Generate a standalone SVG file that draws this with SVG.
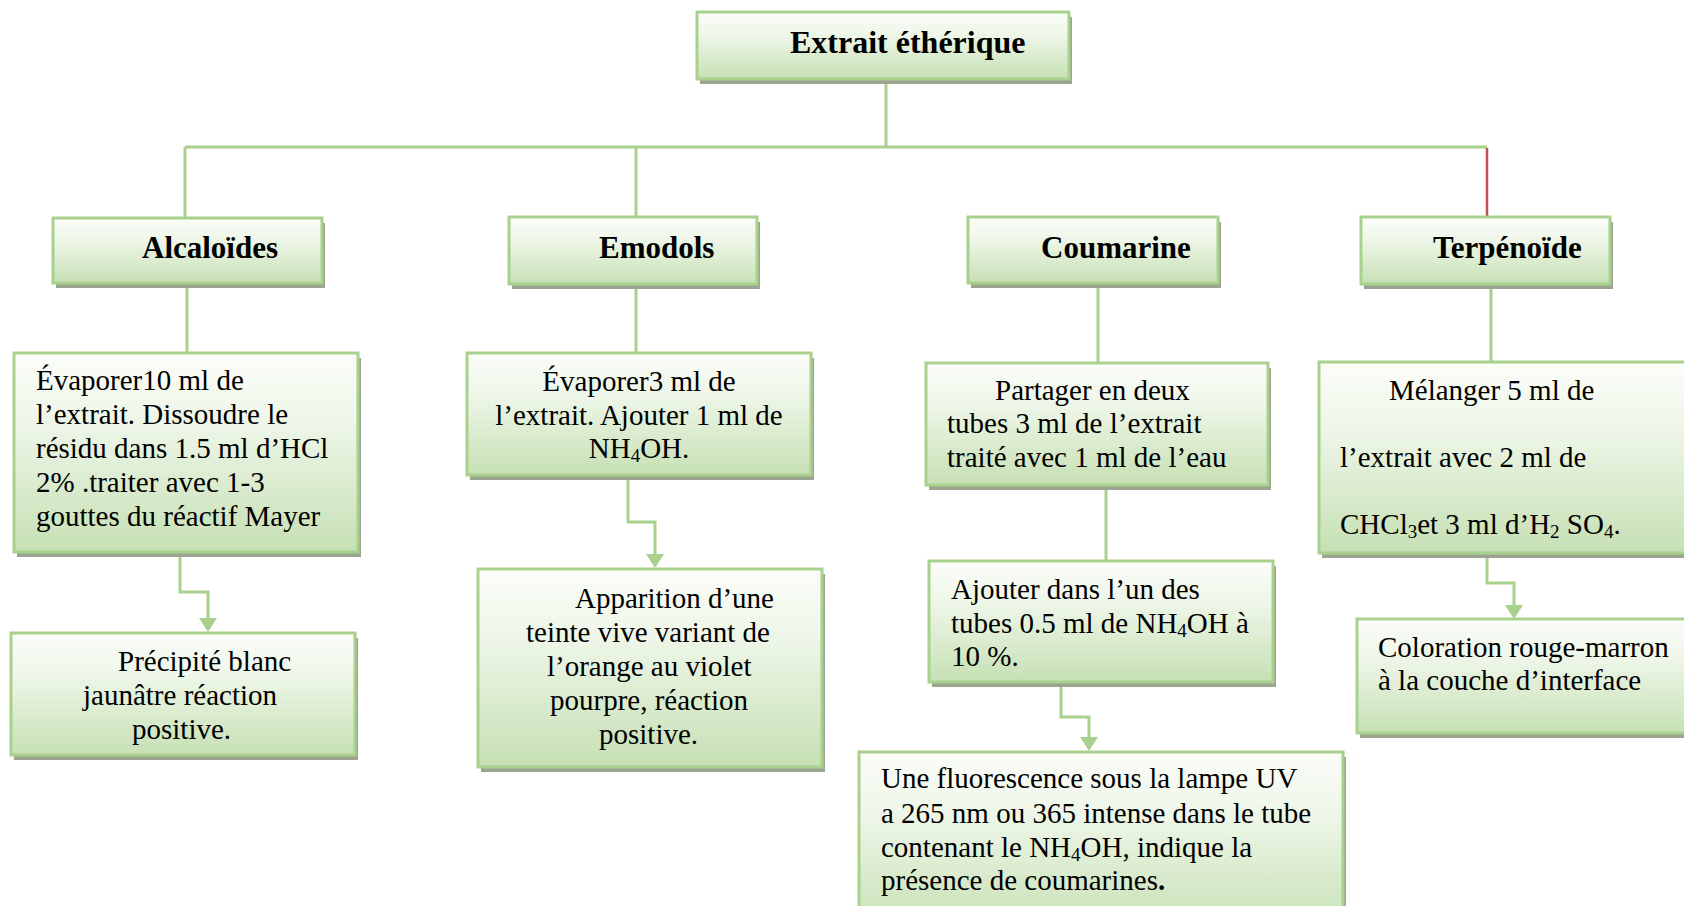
<svg xmlns="http://www.w3.org/2000/svg" width="1684" height="906" viewBox="0 0 1684 906">
<defs>
<linearGradient id="g" x1="0" y1="0" x2="0" y2="1">
<stop offset="0" stop-color="#fbfdf9"/>
<stop offset="0.35" stop-color="#eef6e8"/>
<stop offset="1" stop-color="#c6e0b4"/>
</linearGradient>
<marker id="arr" viewBox="0 0 14 18" refX="0" refY="9" markerWidth="14" markerHeight="18" markerUnits="userSpaceOnUse" orient="auto">
<path d="M0,0 L14,9 L0,18 Z" fill="#a9d18e"/>
</marker>
<style>
.sh{fill:#9ba48e}
.bx{fill:url(#g);stroke:#a9d18e;stroke-width:3}
.t{font-family:"Liberation Serif","Times New Roman",serif;font-size:29px;fill:#000}
.h{font-family:"Liberation Serif","Times New Roman",serif;font-size:31px;font-weight:bold;fill:#000}
.c{stroke:#a9d18e;stroke-width:3;fill:none}
.red{stroke:#c0504d;stroke-width:2.5;fill:none}
</style>
</defs>
<rect width="1684" height="906" fill="#ffffff"/>

<g id="connectors">
<path class="c" d="M886,79 V147"/>
<path class="c" d="M185,147 H1487"/>
<path class="c" d="M185,147 V218"/>
<path class="c" d="M636,147 V217"/>
<path class="red" d="M1487,148 V217"/>
<path class="c" d="M187,283 V353"/>
<path class="c" d="M636,284 V353"/>
<path class="c" d="M1098,283 V363"/>
<path class="c" d="M1491,284 V362"/>
<path class="c" d="M1106,489 V561"/>
<path class="c" d="M180,552 V592 H208 V618" marker-end="url(#arr)"/>
<path class="c" d="M628,475 V522 H655 V554" marker-end="url(#arr)"/>
<path class="c" d="M1061,682 V717 H1089 V737" marker-end="url(#arr)"/>
<path class="c" d="M1487,553 V583 H1514 V605" marker-end="url(#arr)"/>
</g>

<g id="extrait">
<rect class="sh" x="700" y="17" width="372" height="67"/>
<rect class="bx" x="697" y="12" width="372" height="67"/>
<text class="h" x="790" y="53" style="font-size:32px">Extrait éthérique</text>
</g>

<g id="alcaloides">
<rect class="sh" x="56" y="223" width="269" height="65"/>
<rect class="bx" x="53" y="218" width="269" height="65"/>
<text class="h" x="142" y="258">Alcaloïdes</text>
</g>

<g id="emodols">
<rect class="sh" x="512" y="222" width="248" height="67"/>
<rect class="bx" x="509" y="217" width="248" height="67"/>
<text class="h" x="599" y="258">Emodols</text>
</g>

<g id="coumarine">
<rect class="sh" x="971" y="222" width="250" height="66"/>
<rect class="bx" x="968" y="217" width="250" height="66"/>
<text class="h" x="1041" y="258">Coumarine</text>
</g>

<g id="terpenoide">
<rect class="sh" x="1364" y="222" width="249" height="67"/>
<rect class="bx" x="1361" y="217" width="249" height="67"/>
<text class="h" x="1433" y="258">Terpénoïde</text>
</g>

<g id="alc-test">
<rect class="sh" x="17" y="358" width="344" height="199"/>
<rect class="bx" x="14" y="353" width="344" height="199"/>
<text class="t" x="36" y="390">Évaporer10 ml de</text>
<text class="t" x="36" y="424">l’extrait. Dissoudre le</text>
<text class="t" x="36" y="458">résidu dans 1.5 ml d’HCl</text>
<text class="t" x="36" y="492">2% .traiter avec 1-3</text>
<text class="t" x="36" y="526">gouttes du réactif Mayer</text>
</g>

<g id="emo-test">
<rect class="sh" x="470" y="358" width="344" height="122"/>
<rect class="bx" x="467" y="353" width="344" height="122"/>
<text class="t" x="639" y="391" text-anchor="middle">Évaporer3 ml de</text>
<text class="t" x="639" y="425" text-anchor="middle">l’extrait. Ajouter 1 ml de</text>
<text class="t" x="639" y="458" text-anchor="middle">NH<tspan font-size="19" dy="4">4</tspan><tspan dy="-4">OH.</tspan></text>
</g>

<g id="cou-test">
<rect class="sh" x="929" y="368" width="342" height="122"/>
<rect class="bx" x="926" y="363" width="342" height="122"/>
<text class="t" x="995" y="400">Partager en deux</text>
<text class="t" x="947" y="433">tubes 3 ml de l’extrait</text>
<text class="t" x="947" y="467">traité avec 1 ml de l’eau</text>
</g>

<g id="ter-test">
<rect class="sh" x="1322" y="367" width="380" height="191"/>
<rect class="bx" x="1319" y="362" width="380" height="191"/>
<text class="t" x="1389" y="400">Mélanger 5 ml de</text>
<text class="t" x="1340" y="467">l’extrait avec 2 ml de</text>
<text class="t" x="1340" y="534">CHCl<tspan font-size="19" dy="4">3</tspan><tspan dy="-4">et 3 ml d’H</tspan><tspan font-size="19" dy="4">2</tspan><tspan dy="-4"> SO</tspan><tspan font-size="19" dy="4">4</tspan><tspan dy="-4">.</tspan></text>
</g>

<g id="alc-result">
<rect class="sh" x="14" y="638" width="344" height="122"/>
<rect class="bx" x="11" y="633" width="344" height="122"/>
<text class="t" x="118" y="671">Précipité blanc</text>
<text class="t" x="83" y="705">jaunâtre réaction</text>
<text class="t" x="132" y="739">positive.</text>
</g>

<g id="emo-result">
<rect class="sh" x="481" y="574" width="344" height="198"/>
<rect class="bx" x="478" y="569" width="344" height="198"/>
<text class="t" x="575" y="608">Apparition d’une</text>
<text class="t" x="526" y="642">teinte vive variant de</text>
<text class="t" x="547" y="676">l’orange au violet</text>
<text class="t" x="550" y="710">pourpre, réaction</text>
<text class="t" x="599" y="744">positive.</text>
</g>

<g id="cou-step2">
<rect class="sh" x="932" y="566" width="344" height="121"/>
<rect class="bx" x="929" y="561" width="344" height="121"/>
<text class="t" x="951" y="599">Ajouter dans l’un des</text>
<text class="t" x="951" y="633">tubes 0.5 ml de NH<tspan font-size="19" dy="4">4</tspan><tspan dy="-4">OH à</tspan></text>
<text class="t" x="951" y="666">10 %.</text>
</g>

<g id="cou-result">
<rect class="sh" x="862" y="757" width="484" height="180"/>
<rect class="bx" x="859" y="752" width="484" height="180"/>
<text class="t" x="881" y="788">Une fluorescence sous la lampe UV</text>
<text class="t" x="881" y="823">a 265 nm ou 365 intense dans le tube</text>
<text class="t" x="881" y="857">contenant le NH<tspan font-size="19" dy="4">4</tspan><tspan dy="-4">OH, indique la</tspan></text>
<text class="t" x="881" y="890">présence de coumarines<tspan font-weight="bold">.</tspan></text>
</g>

<g id="ter-result">
<rect class="sh" x="1360" y="624" width="344" height="114"/>
<rect class="bx" x="1357" y="619" width="344" height="114"/>
<text class="t" x="1378" y="657">Coloration rouge-marron</text>
<text class="t" x="1378" y="690">à la couche d’interface</text>
</g>
</svg>
